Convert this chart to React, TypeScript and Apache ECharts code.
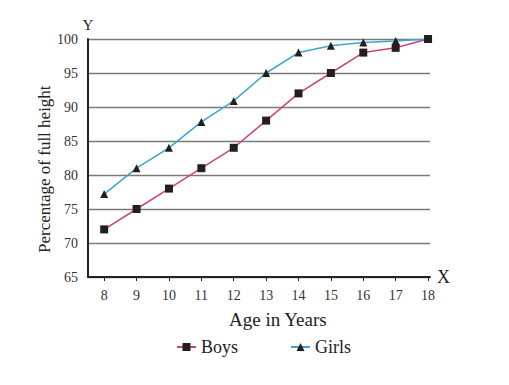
import React, { useEffect, useRef } from "react";
import * as echarts from "echarts";

const ages = [8, 9, 10, 11, 12, 13, 14, 15, 16, 17, 18];
const boys = [72, 75, 78, 81, 84, 88, 92, 95, 98, 98.7, 100];
const girls = [77.2, 81, 84, 87.8, 90.9, 95, 98, 99, 99.5, 99.7, 100];

const FONT = "'Liberation Serif', 'DejaVu Serif', serif";

export default function App() {
  const ref = useRef<HTMLDivElement>(null);
  useEffect(() => {
    document.body.style.margin = "0";
    if (!ref.current) return;
    const chart = echarts.init(ref.current, null, { renderer: "svg" });
    chart.setOption({
      animation: false,
      backgroundColor: "#ffffff",
      textStyle: { fontFamily: FONT },
      grid: { left: 88, right: 79, top: 39, bottom: 108 },
      xAxis: {
        type: "value",
        min: 7.5,
        max: 18.06,
        name: "X",
        nameLocation: "end",
        nameGap: 7,
        nameTextStyle: { fontFamily: FONT, fontSize: 18, color: "#222", padding: [3, 0, 0, 0] },
        axisLine: { show: true, lineStyle: { color: "#222", width: 2 } },
        axisTick: { show: true, customValues: ages, length: 4, lineStyle: { color: "#222", width: 1 } },
        axisLabel: { customValues: ages, fontFamily: FONT, fontSize: 14, color: "#333", margin: 11 },
        splitLine: { show: false },
      },
      yAxis: {
        type: "value",
        min: 65,
        max: 100,
        interval: 5,
        name: "Y",
        nameLocation: "end",
        nameGap: 7,
        nameTextStyle: { fontFamily: FONT, fontSize: 15, color: "#222" },
        axisLine: { show: true, lineStyle: { color: "#222", width: 2 } },
        axisTick: { show: false },
        axisLabel: { fontFamily: FONT, fontSize: 14, color: "#333", margin: 10 },
        splitLine: { show: true, lineStyle: { color: "#7a7a7a", width: 1.3 } },
      },
      legend: {
        top: 333,
        left: 171,
        itemGap: 52,
        itemWidth: 19,
        itemHeight: 10,
        textStyle: { fontFamily: FONT, fontSize: 18, color: "#222" },
        data: ["Boys", "Girls"],
      },
      graphic: [
        {
          type: "text",
          left: 229,
          top: 310,
          style: { text: "Age in Years", font: `19px ${FONT}`, fill: "#222" },
        },
        {
          type: "text",
          x: 36,
          y: 253,
          rotation: Math.PI / 2,
          style: { text: "Percentage of full height", font: `17px ${FONT}`, fill: "#222" },
        },
      ],
      series: [
        {
          name: "Boys",
          type: "line",
          data: ages.map((a, i) => [a, boys[i]]),
          symbol: "rect",
          symbolSize: 8,
          itemStyle: { color: "#231f20" },
          lineStyle: { color: "#d2407c", width: 1.5 },
        },
        {
          name: "Girls",
          type: "line",
          data: ages.map((a, i) => [a, girls[i]]),
          symbol: "triangle",
          symbolSize: 8,
          itemStyle: { color: "#231f20" },
          lineStyle: { color: "#3aa6cf", width: 1.5 },
        },
      ],
    });
    return () => chart.dispose();
  }, []);
  return <div ref={ref} style={{ width: 509, height: 385 }} />;
}
